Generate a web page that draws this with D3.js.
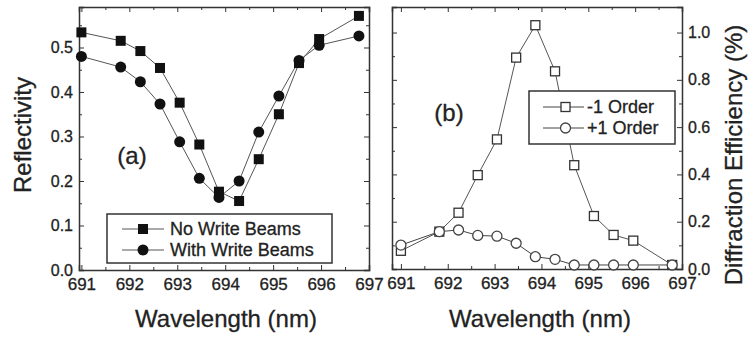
<!DOCTYPE html>
<html>
<head>
<meta charset="utf-8">
<script src="https://cdn.jsdelivr.net/npm/d3@7"></script>
<style>
  body { margin: 0; background: #fff; }
  text { font-family: "Liberation Sans", Arial, sans-serif; fill: #222; stroke: #222; stroke-width: 0.3px; }
</style>
</head>
<body>
<div class="visContainer"></div>
<script>
// Data.
const wavelength = [691.0, 691.82, 692.23, 692.64, 693.05, 693.46, 693.87, 694.29, 694.7, 695.12, 695.54, 695.96, 696.79];
const noWriteBeams = [0.534, 0.515, 0.492, 0.454, 0.376, 0.282, 0.176, 0.155, 0.249, 0.350, 0.465, 0.519, 0.571];
const withWriteBeams = [0.480, 0.456, 0.423, 0.373, 0.288, 0.206, 0.163, 0.200, 0.310, 0.391, 0.471, 0.505, 0.526];
const minusOneOrder = [0.077, 0.158, 0.238, 0.397, 0.548, 0.894, 1.031, 0.836, 0.439, 0.224, 0.144, 0.120, 0.017];
const plusOneOrder = [0.101, 0.158, 0.165, 0.142, 0.139, 0.109, 0.052, 0.041, 0.017, 0.017, 0.017, 0.017, 0.017];

const xTicks = [691, 692, 693, 694, 695, 696, 697];
const reflTicks = [0, 0.1, 0.2, 0.3, 0.4, 0.5];
const diffTicks = [0, 0.2, 0.4, 0.6, 0.8, 1.0];

// SVG constants.
const width = 750;
const height = 337;
const plotTop = 7;
const plotBottom = 269;

const svg = d3.select('.visContainer')
              .append('svg')
              .attr('width', width)
              .attr('height', height);

// Frame with inward ticks on all four sides.
function frame(x, y, majorX, minorX, majorY, minorY, labelSide, fmtY) {
    const [x0, x1] = x.range();
    const [y0, y1] = y.range();
    const axes = [
        [d3.axisBottom(x), y0, 'x', true],
        [d3.axisTop(x), y1, 'x', false],
        [d3.axisLeft(y), x0, 'y', labelSide === 'left'],
        [d3.axisRight(y), x1, 'y', labelSide === 'right']
    ];
    axes.forEach(([axis, pos, dir, labels]) => {
        const g = svg.append('g')
            .attr('transform', dir === 'x' ? `translate(0,${pos})` : `translate(${pos},0)`);
        const major = dir === 'x' ? majorX : majorY;
        const minor = dir === 'x' ? minorX : minorY;
        g.call(axis.tickValues(major).tickSize(-5).tickPadding(dir === 'x' ? 8 : 6)
                  .tickFormat(labels ? (dir === 'x' ? d3.format('d') : fmtY) : ''));
        g.select('.domain').attr('stroke', '#333').attr('stroke-width', 1.5);
        g.selectAll('.tick line').attr('stroke', '#333');
        g.selectAll('.tick text').attr('font-size', dir === 'x' ? '17px' : '16px')
         .style('font-family', '"Liberation Sans", Arial, sans-serif').attr('fill', '#222');
        const gm = svg.append('g')
            .attr('transform', dir === 'x' ? `translate(0,${pos})` : `translate(${pos},0)`);
        gm.call(axis.tickValues(minor).tickSize(-3).tickFormat(''));
        gm.select('.domain').remove();
        gm.selectAll('.tick line').attr('stroke', '#333');
    });
}

// ---------- Panel (a) ----------
const xa = d3.scaleLinear().domain([690.95, 697]).range([79, 369]);
const ya = d3.scaleLinear().domain([0, 0.591]).range([270, plotTop]);

frame(xa, ya, xTicks, d3.range(691.5, 697, 1), reflTicks, d3.range(0.05, 0.59, 0.1), 'left', d3.format('.1f'));

const lineA = (vals) => d3.line().x((d, i) => xa(wavelength[i])).y(d => ya(d))(vals);

svg.append('path').attr('d', lineA(noWriteBeams)).attr('fill', 'none').attr('stroke', '#555').attr('stroke-width', 1);
svg.append('path').attr('d', lineA(withWriteBeams)).attr('fill', 'none').attr('stroke', '#555').attr('stroke-width', 1);

svg.append('g').selectAll('rect').data(noWriteBeams).join('rect')
   .attr('x', (d, i) => xa(wavelength[i]) - 5)
   .attr('y', d => ya(d) - 5)
   .attr('width', 10).attr('height', 10)
   .attr('fill', '#111');

svg.append('g').selectAll('circle').data(withWriteBeams).join('circle')
   .attr('cx', (d, i) => xa(wavelength[i]))
   .attr('cy', d => ya(d))
   .attr('r', 5.5)
   .attr('fill', '#111');

svg.append('text').attr('x', 132).attr('y', 164).attr('text-anchor', 'middle')
   .attr('font-size', '24px').text('(a)');

// Legend (a)
const legA = svg.append('g');
legA.append('rect').attr('x', 107).attr('y', 214).attr('width', 225).attr('height', 49)
    .attr('fill', '#fff').attr('stroke', '#333').attr('stroke-width', 1.5);
[['No Write Beams', 'rect'], ['With Write Beams', 'circle']].forEach(([label, shape], i) => {
    const cy = 229 + i * 21;
    legA.append('line').attr('x1', 122).attr('x2', 164).attr('y1', cy).attr('y2', cy)
        .attr('stroke', '#555');
    if (shape === 'rect') {
        legA.append('rect').attr('x', 138).attr('y', cy - 5).attr('width', 10).attr('height', 10).attr('fill', '#111');
    } else {
        legA.append('circle').attr('cx', 143).attr('cy', cy).attr('r', 5.5).attr('fill', '#111');
    }
    legA.append('text').attr('x', 170).attr('y', cy + 6).attr('font-size', '18px').text(label);
});

svg.append('text')
   .attr('transform', 'translate(31,135) rotate(-90)')
   .attr('text-anchor', 'middle')
   .attr('font-size', '24px')
   .text('Reflectivity');

svg.append('text')
   .attr('x', 226).attr('y', 327)
   .attr('text-anchor', 'middle')
   .attr('font-size', '24px')
   .text('Wavelength (nm)');

// ---------- Panel (b) ----------
const xb = d3.scaleLinear().domain([690.81, 697]).range([392, 682]);
const yb = d3.scaleLinear().domain([0, 1.108]).range([plotBottom, plotTop]);

frame(xb, yb, xTicks, d3.range(691.5, 697, 1), diffTicks, d3.range(0.1, 1.1, 0.2), 'right', d3.format('.1f'));

const lineB = (vals) => d3.line().x((d, i) => xb(wavelength[i])).y(d => yb(d))(vals);

svg.append('path').attr('d', lineB(minusOneOrder)).attr('fill', 'none').attr('stroke', '#555').attr('stroke-width', 1);
svg.append('path').attr('d', lineB(plusOneOrder)).attr('fill', 'none').attr('stroke', '#444').attr('stroke-width', 1);

svg.append('g').selectAll('rect').data(minusOneOrder).join('rect')
   .attr('x', (d, i) => xb(wavelength[i]) - 4.5)
   .attr('y', d => yb(d) - 4.5)
   .attr('width', 9).attr('height', 9)
   .attr('fill', '#fff').attr('stroke', '#333').attr('stroke-width', 1.3);

svg.append('g').selectAll('circle').data(plusOneOrder).join('circle')
   .attr('cx', (d, i) => xb(wavelength[i]))
   .attr('cy', d => yb(d))
   .attr('r', 5)
   .attr('fill', '#fff').attr('stroke', '#444').attr('stroke-width', 1.3);

svg.append('text').attr('x', 449).attr('y', 121).attr('text-anchor', 'middle')
   .attr('font-size', '24px').text('(b)');

// Legend (b)
const legB = svg.append('g');
legB.append('rect').attr('x', 529).attr('y', 91).attr('width', 146).attr('height', 53)
    .attr('fill', '#fff').attr('stroke', '#333').attr('stroke-width', 1.5);
[['-1 Order', 'rect'], ['+1 Order', 'circle']].forEach(([label, shape], i) => {
    const cy = 107 + i * 21;
    legB.append('line').attr('x1', 543).attr('x2', 584).attr('y1', cy).attr('y2', cy)
        .attr('stroke', '#444');
    if (shape === 'rect') {
        legB.append('rect').attr('x', 561).attr('y', cy - 4.5).attr('width', 9).attr('height', 9)
            .attr('fill', '#fff').attr('stroke', '#333').attr('stroke-width', 1.3);
    } else {
        legB.append('circle').attr('cx', 565.5).attr('cy', cy).attr('r', 5)
            .attr('fill', '#fff').attr('stroke', '#444').attr('stroke-width', 1.3);
    }
    legB.append('text').attr('x', 587).attr('y', cy + 6).attr('font-size', '18px').text(label);
});

svg.append('text')
   .attr('transform', 'translate(742,155) rotate(-90)')
   .attr('text-anchor', 'middle')
   .attr('font-size', '24px')
   .text('Diffraction Efficiency (%)');

svg.append('text')
   .attr('x', 540).attr('y', 327)
   .attr('text-anchor', 'middle')
   .attr('font-size', '24px')
   .text('Wavelength (nm)');
</script>
</body>
</html>
